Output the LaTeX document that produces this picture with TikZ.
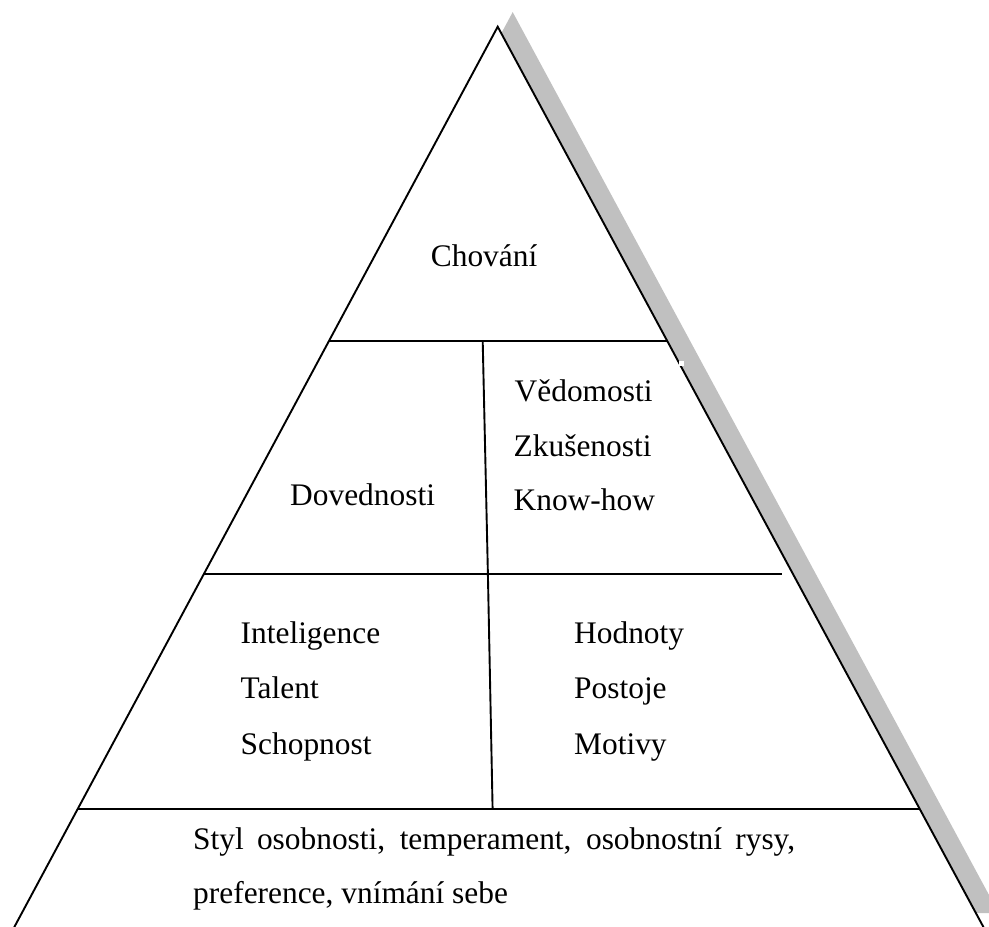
\documentclass[tikz,border=0pt]{standalone}
\usepackage{fontspec}
\setmainfont{Liberation Serif}
\definecolor{shadowgray}{RGB}{192,192,192}
\begin{document}
\begin{tikzpicture}[x=1pt,y=-1pt,
  edge/.style={line width=1.9pt,draw=black},
  lbl/.style={anchor=base west,inner sep=0pt,font=\fontsize{31.4}{37}\selectfont}]
\useasboundingbox (0,0) rectangle (989,927);
\clip (0,0) rectangle (989,927);
% corners of the pyramid
\coordinate (apex) at (497.7,26.7);
\coordinate (bl) at (497.7-0.5369*913.3,940);
\coordinate (br) at (497.7+0.5395*913.3,940);
% shadow (base of the pyramid just below the picture)
\coordinate (sapex) at (512.7,12.1);
\coordinate (sbl) at (512.7-0.5369*901,913.1);
\coordinate (sbr) at (512.7+0.5395*901,913.1);
\fill[shadowgray] (sapex) -- (sbr) -- (sbl) -- cycle;
% pyramid
\fill[white] (bl) -- (apex) -- (br) -- cycle;
\draw[edge] (bl) -- (apex) -- (br);
% small white notch on the right edge
\fill[white] (678.6,361.2) rectangle (684,366);
% horizontal dividers
\coordinate (h1l) at (497.7-0.5369*314,340.7);
\coordinate (h1r) at (497.7+0.5395*314,340.7);
\coordinate (h2l) at (497.7-0.5369*546.6,574);
\coordinate (h2r) at (781.7,574);
\coordinate (h3l) at (497.7-0.5369*782.3,809);
\coordinate (h3r) at (497.7+0.5395*782.3,809);
\draw[edge] (h1l) -- (h1r);
\draw[edge] (h2l) -- (h2r);
\draw[edge] (h3l) -- (h3r);
% vertical dividers
\coordinate (v1t) at (482.7,340.7);
\coordinate (v1b) at (487.9,574);
\coordinate (v2b) at (492.6,809);
\draw[edge] (v1t) -- (v1b);
\draw[edge] (v1b) -- (v2b);
% labels
\node[lbl] (chovani) at (430.7,266) {Chování};
\node[lbl] (dov) at (290,505.7) {Dovednosti};
\node[lbl] (ved) at (514.5,401.7) {Vědomosti};
\node[lbl] (zku) at (513.5,456.7) {Zkušenosti};
\node[lbl] (know) at (513.5,510.7) {Know-how};
\node[lbl] (int) at (240.5,643.3) {Inteligence};
\node[lbl] (tal) at (240.5,698.3) {Talent};
\node[lbl] (sch) at (240.5,754.3) {Schopnost};
\node[lbl] (hod) at (574,643.3) {Hodnoty};
\node[lbl] (pos) at (574,698.3) {Postoje};
\node[lbl] (mot) at (574,754.3) {Motivy};
\node[lbl] (styl) at (193,849) {\makebox[602pt][s]{Styl osobnosti, temperament, osobnostní rysy,}};
\node[lbl] (pref) at (193,903) {preference, vnímání sebe};
\end{tikzpicture}
\end{document}
